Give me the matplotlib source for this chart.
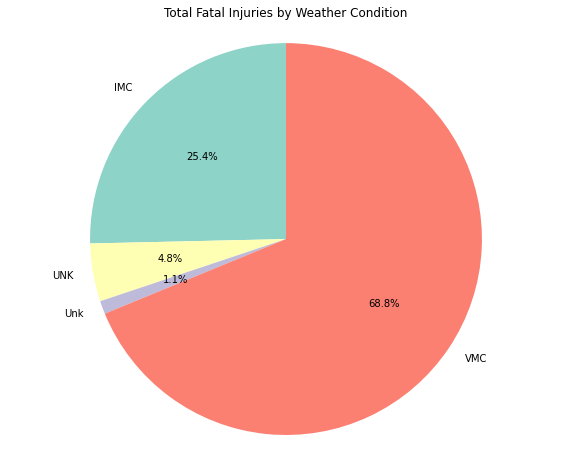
import matplotlib
matplotlib.use("Agg")
import matplotlib.pyplot as plt

labels = ["IMC", "UNK", "Unk", "VMC"]
shares = [25.36, 4.78, 1.08, 68.78]
colors = ["#8dd3c7", "#ffffb3", "#bebada", "#fb8072"]

fig = plt.figure(figsize=(572 / 72, 465 / 72), dpi=72)
ax = fig.add_axes([0.0, 0.0224, 1.0, 0.927])
ax.pie(shares, labels=labels, colors=colors, autopct="%1.1f%%", startangle=90)
ax.axis("equal")
fig.suptitle("Total Fatal Injuries by Weather Condition", y=0.985, fontsize=12)

fig.savefig("out.png", dpi=72, facecolor="white")
